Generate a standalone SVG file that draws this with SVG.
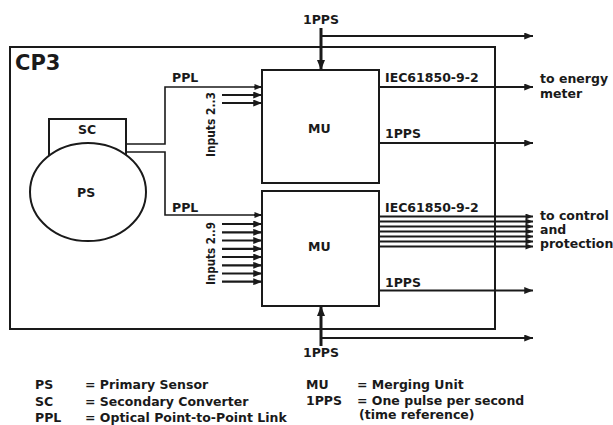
<svg xmlns="http://www.w3.org/2000/svg" width="613" height="425" viewBox="0 0 613 425">
<style>
text{font-family:"DejaVu Sans","Liberation Sans",sans-serif;font-weight:bold;fill:#1a1a1a;font-size:12.5px}
.box{fill:none;stroke:#1a1a1a;stroke-width:2}
.wire{fill:none;stroke:#1a1a1a;stroke-width:1.6}
.arr{fill:none;stroke:#1a1a1a;stroke-width:2.2;marker-end:url(#ah)}
.arrs{fill:none;stroke:#1a1a1a;stroke-width:2;marker-end:url(#ahs)}
.sync{fill:none;stroke:#1a1a1a;stroke-width:3;marker-end:url(#ahb)}
</style>
<defs>
<marker id="ah" viewBox="0 0 10 8" refX="10" refY="4" markerWidth="9" markerHeight="7" markerUnits="userSpaceOnUse" orient="auto"><path d="M0,0 L10,4 L0,8 Z" fill="#1a1a1a"/></marker>
<marker id="ahs" viewBox="0 0 10 8" refX="10" refY="4" markerWidth="8" markerHeight="6" markerUnits="userSpaceOnUse" orient="auto"><path d="M0,0 L10,4 L0,8 Z" fill="#1a1a1a"/></marker>
<marker id="ahb" viewBox="0 0 10 8" refX="10" refY="4" markerWidth="10" markerHeight="9" markerUnits="userSpaceOnUse" orient="auto"><path d="M0,0 L10,4 L0,8 Z" fill="#1a1a1a"/></marker>
</defs>
<rect width="613" height="425" fill="#fff"/>

<g id="cp3">
<rect class="box" x="10" y="47" width="485" height="282" stroke="#333"/>
<text x="15" y="70" style="font-size:21px">CP3</text>
</g>

<g id="sc">
<rect class="box" x="49" y="119" width="77" height="46"/>
<text x="78" y="134">SC</text>
</g>

<g id="ps">
<ellipse cx="88" cy="192" rx="58" ry="49" fill="#fff" stroke="#1a1a1a" stroke-width="2"/>
<text x="77" y="197">PS</text>
</g>

<g id="mu1">
<rect class="box" x="262" y="70" width="117" height="113"/>
<text x="308" y="133">MU</text>
</g>

<g id="mu2">
<rect class="box" x="262" y="191" width="117" height="115"/>
<text x="308" y="251">MU</text>
</g>

<g id="connectors">
<path class="wire" d="M126,144 H165 V87 H254"/>
<path class="arrs" d="M254,87 H262"/>
<path class="wire" d="M126,152 H165 V215 H254"/>
<path class="arrs" d="M254,215 H262"/>
<path class="arr" d="M222,95 H262"/>
<path class="arr" d="M222,103 H262"/>
<path class="arr" d="M222,224 H262"/>
<path class="arr" d="M222,232.3 H262"/>
<path class="arr" d="M222,240.5 H262"/>
<path class="arr" d="M222,248.8 H262"/>
<path class="arr" d="M222,257 H262"/>
<path class="arr" d="M222,265.3 H262"/>
<path class="arr" d="M222,273.5 H262"/>
<path class="arr" d="M222,281.7 H262"/>
<path class="sync" d="M321,28 V70"/>
<path class="arr" d="M321,36 H533"/>
<path class="sync" d="M321,346 V306"/>
<path class="arr" d="M321,338 H533"/>
<path class="arr" d="M379,87 H533"/>
<path class="arr" d="M379,143 H533"/>
<path class="arrs" d="M379,216.5 H533"/>
<path class="arrs" d="M379,221.5 H533"/>
<path class="arrs" d="M379,226.5 H533"/>
<path class="arrs" d="M379,231.5 H533"/>
<path class="arrs" d="M379,236.5 H533"/>
<path class="arrs" d="M379,241.5 H533"/>
<path class="arrs" d="M379,246.5 H533"/>
<path class="arr" d="M379,290.5 H533"/>
</g>

<g id="labels">
<text x="172" y="82">PPL</text>
<text x="172" y="211.5">PPL</text>
<text transform="translate(215,157) rotate(-90)" style="font-size:12px" textLength="65" lengthAdjust="spacingAndGlyphs">Inputs 2..3</text>
<text transform="translate(215,285) rotate(-90)" style="font-size:12px" textLength="63" lengthAdjust="spacingAndGlyphs">Inputs 2..9</text>
<text x="303" y="24">1PPS</text>
<text x="303" y="357">1PPS</text>
<text x="385" y="82">IEC61850-9-2</text>
<text x="385" y="138">1PPS</text>
<text x="385" y="211.5">IEC61850-9-2</text>
<text x="385" y="286.5">1PPS</text>
<text x="540" y="83">to energy</text>
<text x="540" y="98">meter</text>
<text x="540" y="220">to control</text>
<text x="540" y="234">and</text>
<text x="540" y="248">protection</text>
</g>

<g id="legend">
<text x="35" y="389">PS</text>
<text x="85" y="389">= Primary Sensor</text>
<text x="35" y="405.5">SC</text>
<text x="85" y="405.5">= Secondary Converter</text>
<text x="35" y="422">PPL</text>
<text x="85" y="422">= Optical Point-to-Point Link</text>
<text x="306" y="389">MU</text>
<text x="357" y="389">= Merging Unit</text>
<text x="306" y="404.5">1PPS</text>
<text x="357" y="404.5">= One pulse per second</text>
<text x="359" y="419">(time reference)</text>
</g>
</svg>
